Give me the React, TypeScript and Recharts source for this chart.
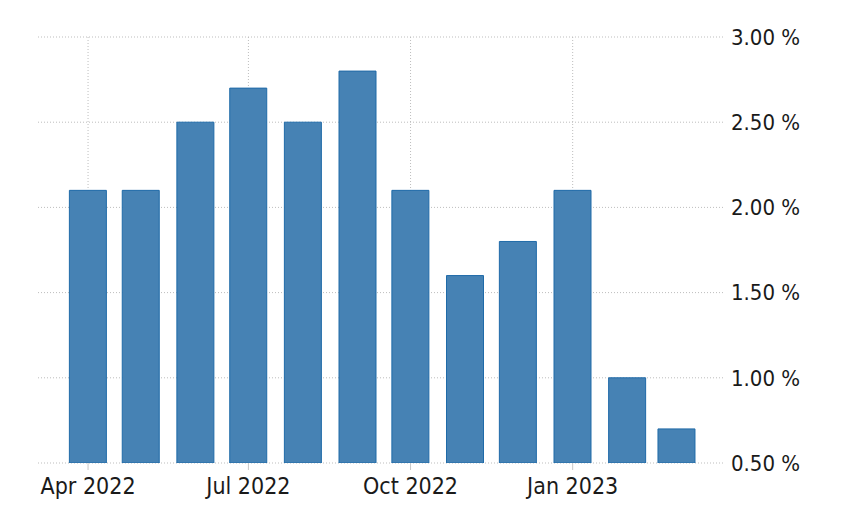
import { BarChart, Bar, XAxis, YAxis, CartesianGrid } from "recharts";

// monthly values, Apr 2022 .. Mar 2023
const months = [
	"2022-04-01",
	"2022-05-01",
	"2022-06-01",
	"2022-07-01",
	"2022-08-01",
	"2022-09-01",
	"2022-10-01",
	"2022-11-01",
	"2022-12-01",
	"2023-01-01",
	"2023-02-01",
	"2023-03-01",
];
const values = [2.1, 2.1, 2.5, 2.7, 2.5, 2.8, 2.1, 1.6, 1.8, 2.1, 1.0, 0.7];
const xTickDates = ["2022-04-01", "2022-07-01", "2022-10-01", "2023-01-01"];
const yTicks = [0.5, 1.0, 1.5, 2.0, 2.5, 3.0];

const MONTH_NAMES = ["Jan", "Feb", "Mar", "Apr", "May", "Jun", "Jul", "Aug", "Sep", "Oct", "Nov", "Dec"];

const toTime = (s: string) => Date.parse(s + "T00:00:00Z");

const data = months.map((m, i) => ({ t: toTime(m), value: values[i] }));
const xTicks = xTickDates.map(toTime);

const DAY = 86400000;
const xDomain = [toTime("2022-04-01") - 28.4 * DAY, toTime("2022-04-01") + 360.3 * DAY];

const fontFamily = "'DejaVu Sans Condensed', 'DejaVu Sans', sans-serif";

const formatMonth = (t: number) => {
	const d = new Date(t);
	return `${MONTH_NAMES[d.getUTCMonth()]} ${d.getUTCFullYear()}`;
};

// vertical grid only at the month ticks, not at the plot edges
const gridX = ({ xAxis, offset }: any) => {
	if (xAxis && typeof xAxis.scale === "function") {
		return xTicks.map((t) => xAxis.scale(t));
	}
	return xTicks.map(
		(t) => offset.left + ((t - xDomain[0]) / (xDomain[1] - xDomain[0])) * offset.width
	);
};

export default function App() {
	return (
		<div style={{ position: "absolute", left: 0, top: 0, background: "#fff" }}>
			<BarChart
				width={850}
				height={531}
				data={data}
				margin={{ top: 37, right: 0, left: 38, bottom: 0 }}
			>
				<CartesianGrid
					stroke="#bdbdbd"
					strokeDasharray="1 2"
					verticalCoordinatesGenerator={gridX}
				/>
				<XAxis
					dataKey="t"
					type="number"
					scale="time"
					domain={xDomain}
					ticks={xTicks}
					tickFormatter={formatMonth}
					height={68}
					axisLine={false}
					tickLine={{ stroke: "#c8c8c8" }}
					tickSize={7}
					tickMargin={8}
					allowDataOverflow
					tick={{ fill: "#1a1a1a", fontSize: 23, fontFamily }}
				/>
				<YAxis
					orientation="right"
					domain={[0.5, 3]}
					ticks={yTicks}
					tickFormatter={(v: number) => `${v.toFixed(2)} %`}
					width={127}
					axisLine={false}
					tickLine={false}
					tickMargin={2}
					allowDataOverflow
					tick={{ fill: "#1a1a1a", fontSize: 22, fontFamily, textAnchor: "start" }}
				/>
				<Bar
					dataKey="value"
					fill="#4682b4"
					stroke="#1f6aa8"
					strokeWidth={1}
					barSize={37}
					isAnimationActive={false}
				/>
			</BarChart>
		</div>
	);
}
